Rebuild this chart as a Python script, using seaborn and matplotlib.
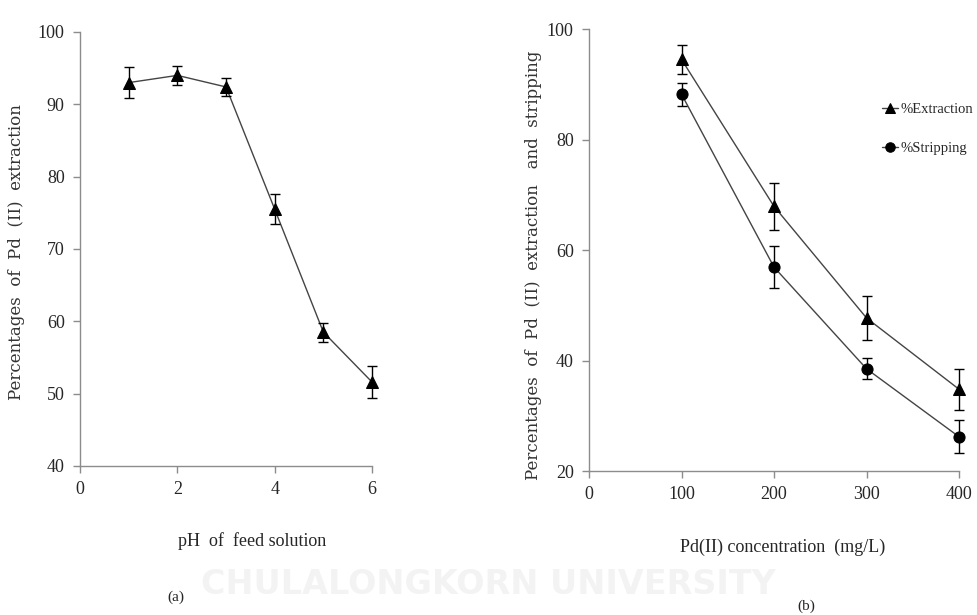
import matplotlib
matplotlib.use("Agg")
import matplotlib.pyplot as plt
import numpy as np
import pandas as pd
import seaborn as sns

# (a) pH effect
ph = [1, 2, 3, 4, 5, 6]
ph_extraction = [93.0, 94.0, 92.4, 75.5, 58.5, 51.6]
ph_err = [2.1, 1.3, 1.2, 2.1, 1.3, 2.2]

# (b) Pd(II) concentration effect
conc = [100, 200, 300, 400]
conc_extraction = [94.5, 67.9, 47.7, 34.8]
conc_extraction_err = [2.6, 4.2, 4.0, 3.7]
conc_stripping = [88.2, 56.9, 38.5, 26.2]
conc_stripping_err = [2.1, 3.8, 1.9, 3.0]

sns.set_style("white")
plt.rcParams['font.family'] = ['Liberation Serif', 'DejaVu Serif']

YLAB = dict(fontsize=12, family='DejaVu Serif', color='#333333')
XLAB = dict(fontsize=13, family='Liberation Serif')


def style_axes(ax):
  for side in ['top', 'right']:
    ax.spines[side].set_visible(False)
  for side in ['left', 'bottom']:
    ax.spines[side].set_color('#8c8c8c')
    ax.spines[side].set_linewidth(1.0)
  ax.tick_params(axis='both', which='major', direction='out', length=5, width=1,
                 color='#8c8c8c', labelsize=13, pad=6, bottom=True, left=True)
  for lab in ax.get_xticklabels() + ax.get_yticklabels():
    lab.set_family('Liberation Serif')


def series(ax, x, y, err, marker, ms, label=None):
  df = pd.DataFrame({'x': x, 'y': y})
  sns.lineplot(data=df, x='x', y='y', ax=ax, color='#444444', linewidth=1.0,
               marker=marker, markersize=ms, markerfacecolor='black',
               markeredgecolor='black', label=label, legend=False, clip_on=False)
  eb = ax.errorbar(x, y, yerr=err, fmt='none', ecolor='black', elinewidth=1.0,
                   capsize=3.5, capthick=1.0)
  for art in eb.lines[1] + eb.lines[2]:
    art.set_clip_on(False)


fig = plt.figure(figsize=(9.77, 6.15), dpi=100)

# watermark
fig.text(0.5, 0.05, 'CHULALONGKORN UNIVERSITY', ha='center', va='center',
         fontsize=24, fontweight='bold', family='DejaVu Sans', color='#f3f3f3')

ax1 = fig.add_axes([0.0819, 0.2423, 0.2989, 0.7057])
series(ax1, ph, ph_extraction, ph_err, '^', 8)
ax1.set_xlim(0, 6)
ax1.set_ylim(40, 100)
ax1.set_xticks([0, 2, 4, 6])
ax1.set_yticks([40, 50, 60, 70, 80, 90, 100])
style_axes(ax1)
ax1.set_xlabel('')
ax1.set_ylabel('')
fig.text(0.258, 1 - 541 / 615, 'pH  of  feed solution', ha='center', va='center', **XLAB)
fig.text(17 / 977, 1 - 252 / 615, 'Percentages  of  Pd  (II)  extraction', rotation=90,
         ha='center', va='center', **YLAB)
fig.text(176 / 977, 1 - 597 / 615, '(a)', ha='center', va='center', fontsize=11)

ax2 = fig.add_axes([0.6029, 0.2341, 0.3787, 0.7187])
series(ax2, conc, conc_extraction, conc_extraction_err, '^', 8, '%Extraction')
series(ax2, conc, conc_stripping, conc_stripping_err, 'o', 8, '%Stripping')
ax2.set_xlim(0, 400)
ax2.set_ylim(20, 100)
ax2.set_xticks([0, 100, 200, 300, 400])
ax2.set_yticks([20, 40, 60, 80, 100])
style_axes(ax2)
ax2.set_xlabel('')
ax2.set_ylabel('')
fig.text(783 / 977, 1 - 547 / 615, 'Pd(II) concentration  (mg/L)', ha='center', va='center', **XLAB)
fig.text(533 / 977, 1 - 265 / 615, 'Percentages  of  Pd  (II)  extraction   and  stripping',
         rotation=90, ha='center', va='center', **YLAB)
fig.text(806 / 977, 1 - 606 / 615, '(b)', ha='center', va='center', fontsize=11)

handles, labels = ax2.get_legend_handles_labels()
fig.legend(handles, labels, loc='upper left', bbox_to_anchor=(882 / 977, 1 - 103 / 615),
           frameon=False, handlelength=1.1, handletextpad=0.15, labelspacing=1.75,
           borderaxespad=0, borderpad=0, markerscale=0.85,
           prop={'family': 'Liberation Serif', 'size': 10.5})

fig.savefig('out.png', dpi=100)
